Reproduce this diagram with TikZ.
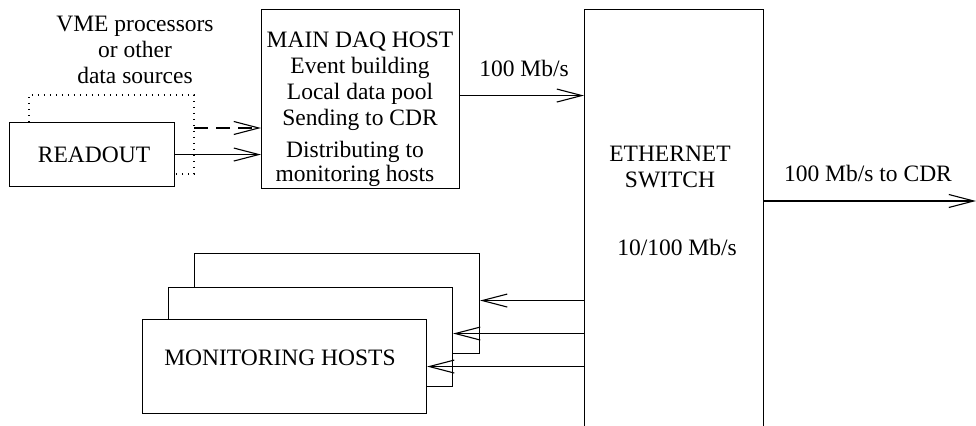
\documentclass[tikz,border=0pt]{standalone}
\usepackage{fontspec}
\setmainfont{Liberation Serif}
\usetikzlibrary{arrows.meta}
\begin{document}
\begin{tikzpicture}[x=0.5pt,y=-0.5pt,
  box/.style={draw, line width=0.55pt, inner sep=0pt, anchor=north west, fill=white},
  txt/.style={font=\fontsize{11.75}{13}\selectfont, align=center, inner sep=0pt},
  arr/.style={line width=0.55pt, -{Straight Barb[length=12.5pt,width=6.5pt]}},
]
\useasboundingbox (0,0) rectangle (976,426);
% source box and main host
\node[box, minimum width=82.5pt, minimum height=32pt, font=\fontsize{11.75}{13}\selectfont] (readout) at (9,122) {\hspace*{2pt}READOUT};
\node[box, minimum width=99pt, minimum height=89.5pt] (daq) at (261,9) {};
\node[txt] (daqtxt) at (360,81.5) {MAIN DAQ HOST\\Event building\\Local data pool\\Sending to CDR};
\node[txt, font=\fontsize{11.75}{9.75}\selectfont] (dist) at (355,164) {Distributing to\\monitoring hosts};
\node[txt] (vme) at (135,50) {VME processors\\or other\\data sources};
% switch
\node[box, minimum width=89.5pt, minimum height=216pt] (sw) at (584,9) {};
\node[txt] (swtxt) at (670,166.5) {ETHERNET\\SWITCH};
\node[txt] (swrate) at (677,247) {10/100 Mb/s};
% monitoring hosts
\node[box, minimum width=142.5pt, minimum height=50pt] (m3) at (194,253) {};
\node[box, minimum width=142pt, minimum height=49.5pt] (m2) at (168,287) {};
\node[box, minimum width=142pt, minimum height=47pt] (m1) at (142,319) {};
\node[txt] (mtxt) at (280,358) {MONITORING HOSTS};
% labels
\node[txt] (rate1) at (524,68) {100 Mb/s};
\node[txt] (rate2) at (868,173) {100 Mb/s to CDR};
% dotted other sources
\coordinate (dotc) at (194,174);
\draw[line width=0.55pt, dash pattern=on 0.6pt off 2.4pt] ([xshift=10pt]readout.north west) -- ++(0,-27) -| (dotc) -- (dotc -| readout.east);
% arrows into main host
\coordinate (dstart) at (194,128);
\draw[arr, dash pattern=on 7pt off 4pt] (dstart) -- (dstart -| daq.west);
\draw[arr] (readout.east) -- (readout.east -| daq.west);
% main host to switch
\coordinate (d1) at ([yshift=1.75pt]daq.east);
\draw[arr] (d1) -- (d1 -| sw.west);
% switch out
\coordinate (cdr) at (976,201);
\draw[arr] (cdr -| sw.east) -- (cdr);
% switch to monitoring hosts
\coordinate (e3) at ([yshift=1.5pt]m3.east);
\coordinate (e2) at ([yshift=1.75pt]m2.east);
\draw[arr] (e3 -| sw.west) -- (e3);
\draw[arr] (e2 -| sw.west) -- (e2);
\draw[arr] (m1.east -| sw.west) -- (m1.east);
\end{tikzpicture}
\end{document}
